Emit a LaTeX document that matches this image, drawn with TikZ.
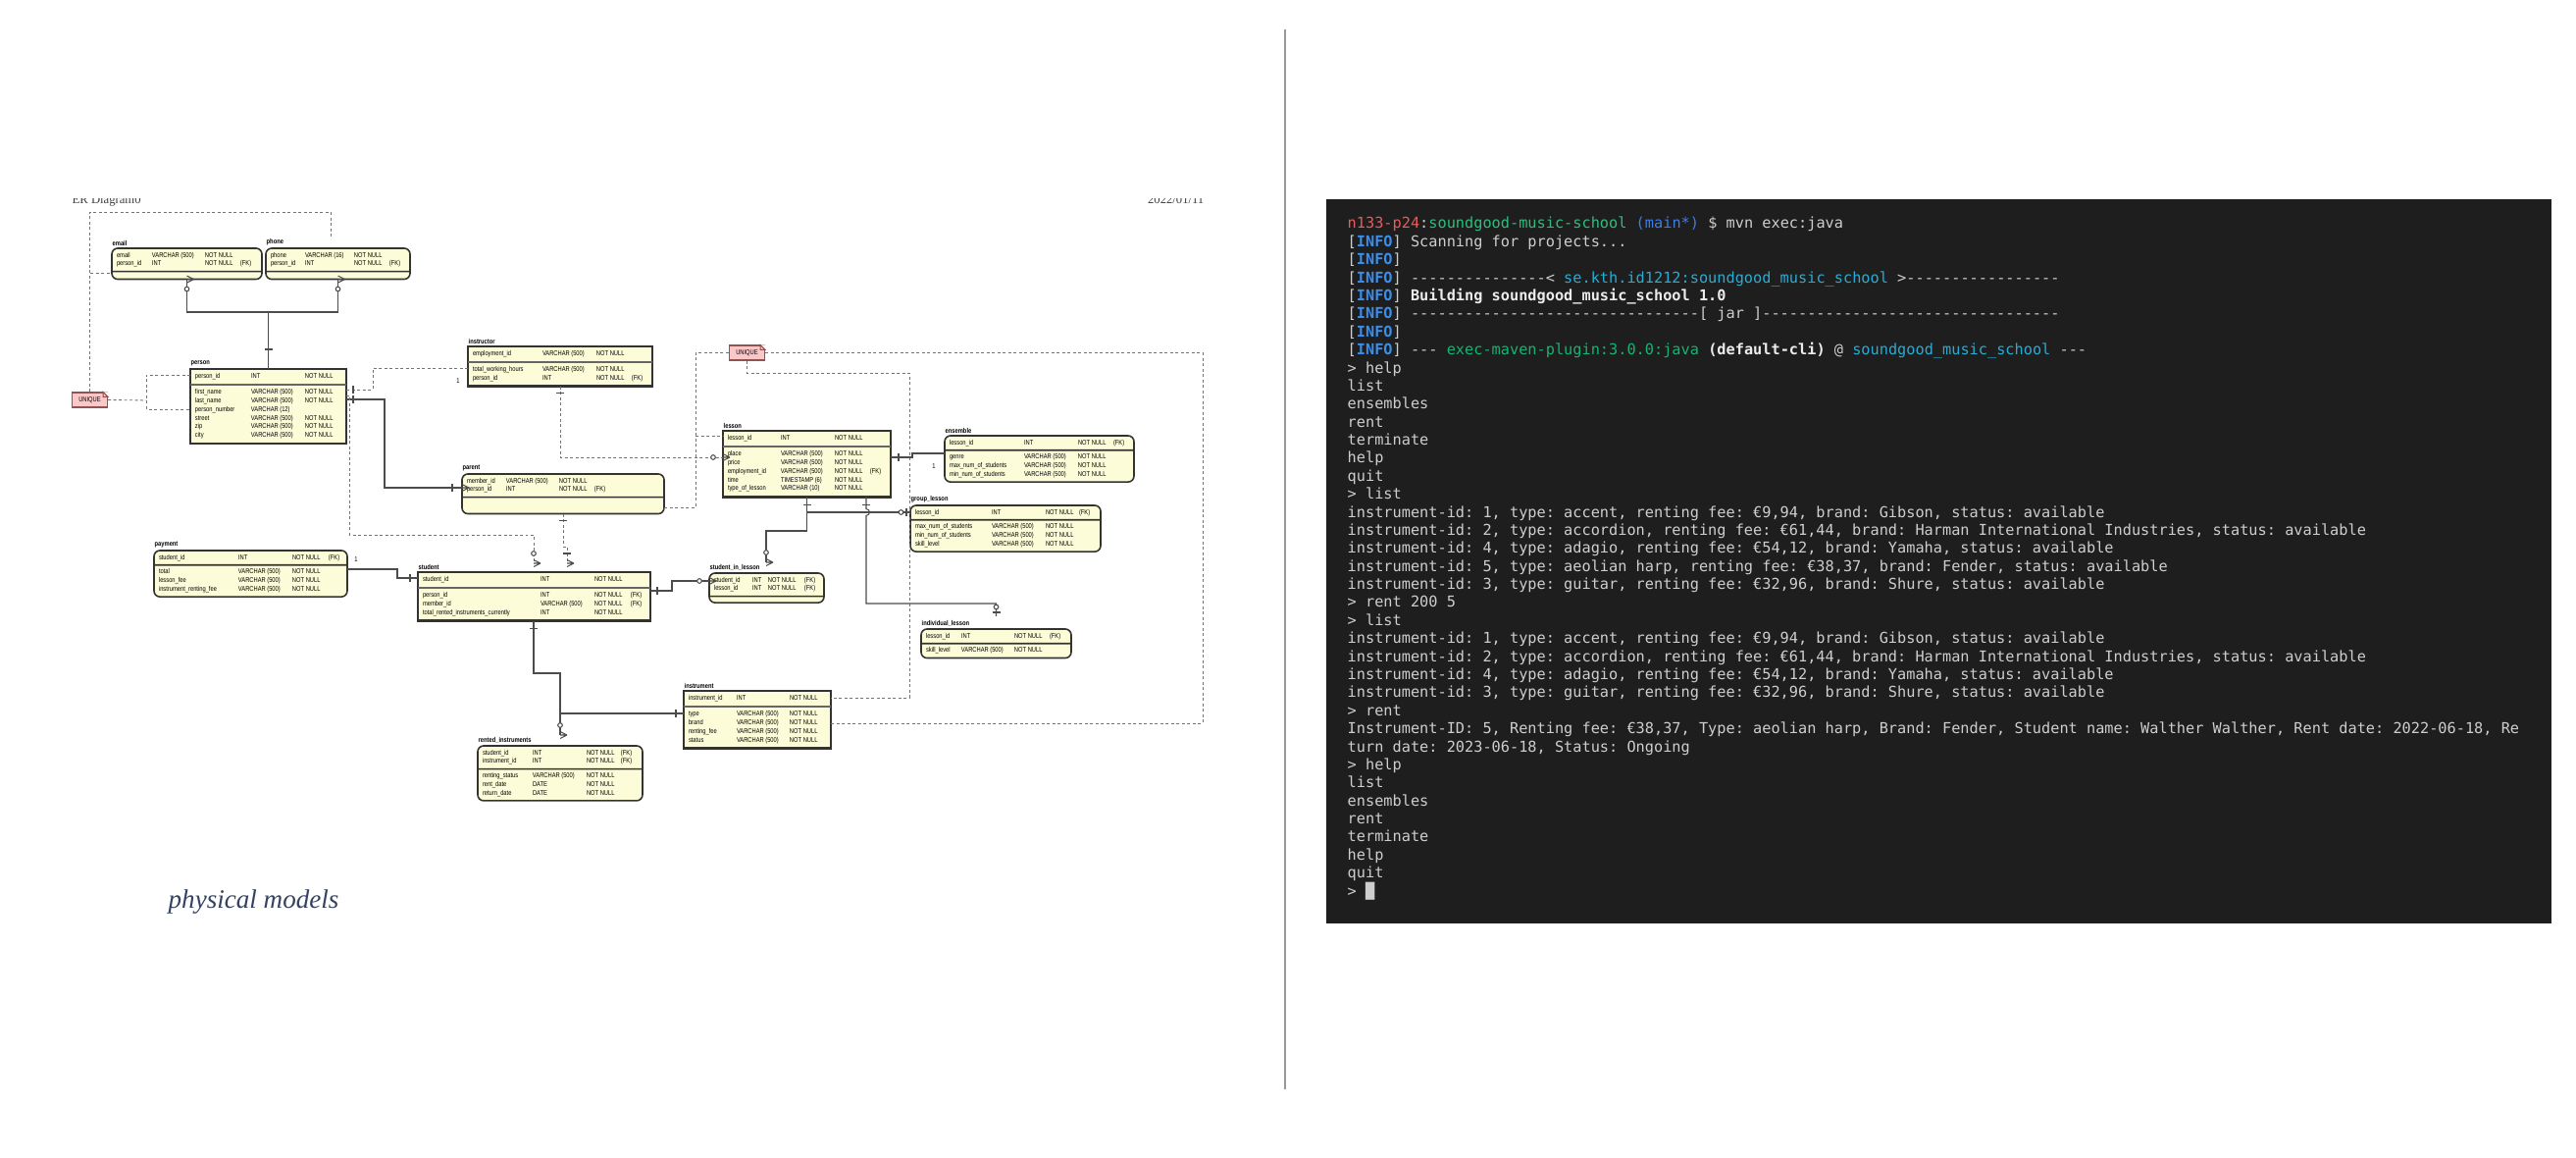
\documentclass[tikz,border=0pt]{standalone}
\usepackage{fontspec}
\setmonofont{DejaVu Sans Mono}
\newfontfamily\erfont[FakeStretch=0.82]{Liberation Sans}
\newfontfamily\pagefont{Liberation Serif}
\usetikzlibrary{shapes.multipart}

\definecolor{erfill}{RGB}{253,252,216}
\definecolor{notefill}{RGB}{250,200,200}
\definecolor{notedraw}{RGB}{150,80,80}
\definecolor{capblue}{RGB}{52,66,98}
\definecolor{termbg}{RGB}{30,30,30}
\definecolor{termfg}{RGB}{206,206,206}
\definecolor{twhite}{RGB}{236,236,236}
\definecolor{infoblue}{RGB}{59,142,234}
\definecolor{pred}{RGB}{232,92,92}
\definecolor{pgreen}{RGB}{45,190,125}
\definecolor{pblue}{RGB}{60,125,235}
\definecolor{tcyan}{RGB}{41,172,212}
\definecolor{tgreen}{RGB}{20,180,115}

\newlength\pxu \setlength\pxu{0.01cm}
\newlength\ecA \newlength\ecB \newlength\ecC \newlength\ecD
\newcommand\setcols[4]{\setlength\ecA{#1\pxu}\setlength\ecB{#2\pxu}\setlength\ecC{#3\pxu}\setlength\ecD{#4\pxu}}
\newcommand\etab[1]{\begin{tabular}{@{}p{\ecA}@{}p{\ecB}@{}p{\ecC}@{}p{\ecD}@{}}#1\end{tabular}}
\newcommand\ersize{\fontsize{2pt}{2.5pt}\selectfont}
\newcommand\tinfo{[\textcolor{infoblue}{\textbf{INFO}}]}

\tikzset{
  entity/.style={rectangle split, rectangle split parts=2, rectangle split part align=left,
    draw=black!80, fill=erfill, anchor=north west, inner xsep=5\pxu, inner ysep=2.2\pxu,
    outer sep=0pt, font=\erfont\ersize},
  strong/.style={entity, line width=0.8pt, rectangle split draw splits=false},
  weak/.style={entity, line width=0.45pt, rounded corners=6\pxu},
  etitle/.style={anchor=south west, inner sep=0pt, yshift=2\pxu, font=\erfont\ersize\bfseries},
  splitline/.style={draw=black!60, line width=0.3pt},
  link/.style={draw=black!70, line width=0.3pt},
  dlink/.style={draw=black!55, line width=0.25pt, dash pattern=on 3\pxu off 2.5\pxu},
  note/.style={draw=notedraw, fill=notefill, line width=0.3pt, minimum width=36\pxu,
    minimum height=15\pxu, inner sep=0pt, font=\erfont\ersize},
  card/.style={inner sep=0pt, font=\erfont\ersize},
  pics/crow/.style={code={\draw[link] (7,0) -- (0,-3.5) (7,0) -- (0,0) (7,0) -- (0,3.5);}},
  pics/one/.style={code={\draw[link] (#1,-4) -- (#1,4);}},
  pics/zmany/.style={code={\pic {crow}; \draw[link, fill=white] (10,0) circle (2.3);}},
  pics/omany/.style={code={\pic {crow}; \draw[link] (10,-4) -- (10,4);}},
  pics/zone/.style={code={\draw[link] (4,-4) -- (4,4); \draw[link, fill=white] (9.5,0) circle (2.3);}},
  term/.style={anchor=base west, inner sep=0pt, text=termfg, font=\ttfamily\fontsize{4.34pt}{5.2pt}\selectfont},
  pagehead/.style={inner sep=0pt, text=black!75, font=\pagefont\fontsize{3.6pt}{4pt}\selectfont},
}

\begin{document}
\begin{tikzpicture}[x=0.01cm, y=-0.01cm]
\useasboundingbox (0,0) rectangle (2626,1180);
\fill[white] (0,0) rectangle (2626,1180);

% page of the ER model
\begin{scope}
  \clip (0,203) rectangle (1300,230);
  \node[pagehead, anchor=base west] (hdr) at (73,207.5) {ER Diagram0};
  \node[pagehead, anchor=base east] (date) at (1228,207.5) {2022/01/11};
\end{scope}

\setcols{36}{54}{36}{17}
\node[weak, label={[etitle]north west:email}] (email) at (114,253)
  {\etab{email & VARCHAR (500) & NOT NULL\\ person\_id & INT & NOT NULL & (FK)}\nodepart{two}\rule{0pt}{2\pxu}};
\setcols{35}{50}{36}{16}
\node[weak, label={[etitle]north west:phone}] (phone) at (271,253)
  {\etab{phone & VARCHAR (16) & NOT NULL\\ person\_id & INT & NOT NULL & (FK)}\nodepart{two}\rule{0pt}{2\pxu}};
\setcols{57}{55}{37}{0}
\node[strong, label={[etitle]north west:person}] (person) at (194,376)
  {\etab{person\_id & INT & NOT NULL}\nodepart{two}\etab{first\_name & VARCHAR (500) & NOT NULL\\
   last\_name & VARCHAR (500) & NOT NULL\\ person\_number & VARCHAR (12)\\ street & VARCHAR (500) & NOT NULL\\
   zip & VARCHAR (500) & NOT NULL\\ city & VARCHAR (500) & NOT NULL}};
\setcols{71}{55}{36}{16}
\node[strong, label={[etitle]north west:instructor}] (instructor) at (477,353)
  {\etab{employment\_id & VARCHAR (500) & NOT NULL}\nodepart{two}\etab{total\_working\_hours & VARCHAR (500) & NOT NULL\\
   person\_id & INT & NOT NULL & (FK)}};
\setcols{40}{54}{36}{66}
\node[weak, label={[etitle]north west:parent}] (parent) at (471,483)
  {\etab{member\_id & VARCHAR (500) & NOT NULL\\ person\_id & INT & NOT NULL & (FK)}\nodepart{two}\rule{0pt}{11\pxu}};
\setcols{54}{55}{36}{16}
\node[strong, label={[etitle]north west:lesson}] (lesson) at (737,439)
  {\etab{lesson\_id & INT & NOT NULL}\nodepart{two}\etab{place & VARCHAR (500) & NOT NULL\\
   price & VARCHAR (500) & NOT NULL\\ employment\_id & VARCHAR (500) & NOT NULL & (FK)\\
   time & TIMESTAMP (6) & NOT NULL\\ type\_of\_lesson & VARCHAR (10) & NOT NULL}};
\setcols{76}{55}{36}{16}
\node[weak, label={[etitle]north west:ensemble}] (ensemble) at (963,444)
  {\etab{lesson\_id & INT & NOT NULL & (FK)}\nodepart{two}\etab{genre & VARCHAR (500) & NOT NULL\\
   max\_num\_of\_students & VARCHAR (500) & NOT NULL\\ min\_num\_of\_students & VARCHAR (500) & NOT NULL}};
\setcols{78}{55}{34}{17}
\node[weak, label={[etitle]north west:group\_lesson}] (group-lesson) at (928,515)
  {\etab{lesson\_id & INT & NOT NULL & (FK)}\nodepart{two}\etab{max\_num\_of\_students & VARCHAR (500) & NOT NULL\\
   min\_num\_of\_students & VARCHAR (500) & NOT NULL\\ skill\_level & VARCHAR (500) & NOT NULL}};
\setcols{36}{54}{36}{17}
\node[weak, label={[etitle]north west:individual\_lesson}] (individual-lesson) at (939,641)
  {\etab{lesson\_id & INT & NOT NULL & (FK)}\nodepart{two}\etab{skill\_level & VARCHAR (500) & NOT NULL}};
\setcols{81}{55}{37}{14}
\node[weak, label={[etitle]north west:payment}] (payment) at (157,561)
  {\etab{student\_id & INT & NOT NULL & (FK)}\nodepart{two}\etab{total & VARCHAR (500) & NOT NULL\\
   lesson\_fee & VARCHAR (500) & NOT NULL\\ instrument\_renting\_fee & VARCHAR (500) & NOT NULL}};
\setcols{120}{55}{37}{15}
\node[strong, label={[etitle]north west:student}] (student) at (426,583)
  {\etab{student\_id & INT & NOT NULL}\nodepart{two}\etab{person\_id & INT & NOT NULL & (FK)\\
   member\_id & VARCHAR (500) & NOT NULL & (FK)\\ total\_rented\_instruments\_currently & INT & NOT NULL}};
\setcols{39}{16}{37}{15}
\node[weak, label={[etitle]north west:student\_in\_lesson}] (student-in-lesson) at (723,584)
  {\etab{student\_id & INT & NOT NULL & (FK)\\ lesson\_id & INT & NOT NULL & (FK)}\nodepart{two}\rule{0pt}{0.6\pxu}};
\setcols{49}{54}{37}{0}
\node[strong, label={[etitle]north west:instrument}] (instrument) at (697,704)
  {\etab{instrument\_id & INT & NOT NULL}\nodepart{two}\etab{type & VARCHAR (500) & NOT NULL\\
   brand & VARCHAR (500) & NOT NULL\\ renting\_fee & VARCHAR (500) & NOT NULL\\ status & VARCHAR (500) & NOT NULL}};
\setcols{51}{55}{35}{17}
\node[weak, label={[etitle]north west:rented\_instruments}] (rented-instruments) at (487,760)
  {\etab{student\_id & INT & NOT NULL & (FK)\\ instrument\_id & INT & NOT NULL & (FK)}\nodepart{two}\etab{renting\_status & VARCHAR (500) & NOT NULL\\
   rent\_date & DATE & NOT NULL\\ return\_date & DATE & NOT NULL}};
\foreach \n in {person,instructor,lesson,student,instrument}
  \draw[splitline] (\n.one split west) -- (\n.one split east);

% notes
\node[note] (uq1) at (91.5,407.5) {UNIQUE};
\node[note] (uq2) at (761.5,359.5) {UNIQUE};
\foreach \n in {uq1,uq2} {
  \fill[white] ([xshift=-5\pxu]\n.north east) -- ([xshift=0.5pt]\n.north east) -- ([yshift=-5\pxu]\n.north east) -- cycle;
  \draw[notedraw, line width=0.3pt] ([xshift=-5\pxu]\n.north east) |- ([yshift=-5\pxu]\n.north east) -- cycle;
}

% connectors
\draw[dlink] (uq1.north) |- (337,216) -- (337,242);
\draw[dlink] (92,278) -- (email.west |- 0,278);
\draw[dlink] (uq1.east) -- (149,408);
\draw[dlink] (person.west |- 0,382) -| (149,417) -- (person.west |- 0,417);
\draw[link] (email.south) |- (person.north |- 0,318) -| (phone.south);
\draw[link] (person.north |- 0,318) -- (person.north);
\pic[rotate=-90] at (email.south) {zmany};
\pic[rotate=-90] at (phone.south) {zmany};
\pic[rotate=90] at (person.north) {one=20};

\draw[dlink] (person.east |- 0,397) -| (380,375) -- (instructor.west |- 0,375);
\pic at (person.east |- 0,397) {one=7};
\node[card] (c1) at (467,388) {1};
\draw[link] (person.east |- 0,407) -| (392,497) -- (parent.west |- 0,497);
\pic at (person.east |- 0,407) {one=7};
\pic[rotate=180] at (parent.west |- 0,497) {omany};
\draw[dlink] (person.east |- 0,403) -| (356,545) -| (544,574);
\pic[rotate=90] at (544,574) {zmany};
\draw[dlink] (parent.south) -- (parent.south |- 0,557) -| (578,574);
\pic[rotate=-90] at (parent.south) {one=7};
\pic[rotate=90] at (578,574) {omany};

\draw[dlink] (instructor.south) |- (lesson.west |- 0,466);
\pic[rotate=-90] at (instructor.south) {one=7};
\pic[rotate=180] at (lesson.west |- 0,466) {zmany};
\draw[dlink] (uq2.west) -| (709,517) -- (parent.east |- 0,517);
\draw[dlink] (709,444) -- (lesson.west |- 0,444);
\draw[dlink] (uq2.east) -| (1226,737) -- (instrument.east |- 0,737);
\draw[dlink] (uq2.south) |- (927,380) |- (instrument.east |- 0,711);

\draw[link] (lesson.east |- 0,466) -- (930,466) |- (ensemble.west |- 0,462);
\pic at (lesson.east |- 0,466) {one=8};
\node[card] (c2) at (952,475) {1};
\draw[link] (lesson.south) |- (781,541) -- (781,573);
\draw[link] (lesson.south |- 0,522) -- (group-lesson.west |- 0,522);
\pic[rotate=-90] at (lesson.south) {one=8};
\pic[rotate=90] at (781,573) {zmany};
\pic[rotate=180] at (group-lesson.west |- 0,522) {zone};
\coordinate (lb2) at (lesson.south -| 883,0);
\draw[link] (lb2) -- (883,518.5) .. controls (887.5,519) and (887.5,525) .. (883,525.5)
  |- (individual-lesson.north |- 0,615) -- (individual-lesson.north |- 0,628);
\pic[rotate=-90] at (lb2) {one=8};
\pic[rotate=90] at (individual-lesson.north |- 0,628) {zone};

\draw[link] (payment.east |- 0,580) -| (405,589) -- (student.west |- 0,589);
\pic[rotate=180] at (student.west |- 0,589) {one=8};
\node[card] (c3) at (363,570) {1};
\draw[link] (student.east |- 0,602) -| (685,592) -- (student-in-lesson.west |- 0,592);
\pic at (student.east |- 0,602) {one=7};
\pic[rotate=180] at (student-in-lesson.west |- 0,592) {zmany};
\draw[link] (student.south -| 544,0) |- (571,686) -- (571,749);
\draw[link] (instrument.west |- 0,727) -- (571,727);
\pic[rotate=-90] at (student.south -| 544,0) {one=8};
\pic[rotate=90] at (571,749) {zmany};
\pic[rotate=180] at (instrument.west |- 0,727) {one=8};

\node[anchor=base west, inner sep=0pt, text=capblue, font=\pagefont\itshape\fontsize{7.7pt}{9pt}\selectfont] (cap) at (171,926) {physical models};

\draw[black!40, line width=0.45pt] (1310,30) -- (1310,1110);

% terminal
\fill[termbg] (1352,203) rectangle (2601,941);
\foreach \tline [count=\i] in {
  {\textcolor{pred}{n133-p24}:\textcolor{pgreen}{soundgood-music-school} \textcolor{pblue}{(main*)} \$ mvn exec:java},
  {\tinfo{} Scanning for projects.{}.{}.},
  {\tinfo},
  {\tinfo{} ---------------< \textcolor{tcyan}{se.kth.id1212:soundgood\_music\_school} >-----------------},
  {\tinfo{} \textcolor{twhite}{\textbf{Building soundgood\_music\_school 1.0}}},
  {\tinfo{} --------------------------------[ jar ]---------------------------------},
  {\tinfo},
  {\tinfo{} --- \textcolor{tgreen}{exec-maven-plugin:3.0.0:java} \textcolor{twhite}{\textbf{(default-cli)}} @ \textcolor{tcyan}{soundgood\_music\_school} ---},
  {> help}, list, ensembles, rent, terminate, help, quit,
  {> list},
  {instrument-id: 1, type: accent, renting fee: €9,94, brand: Gibson, status: available},
  {instrument-id: 2, type: accordion, renting fee: €61,44, brand: Harman International Industries, status: available},
  {instrument-id: 4, type: adagio, renting fee: €54,12, brand: Yamaha, status: available},
  {instrument-id: 5, type: aeolian harp, renting fee: €38,37, brand: Fender, status: available},
  {instrument-id: 3, type: guitar, renting fee: €32,96, brand: Shure, status: available},
  {> rent 200 5},
  {> list},
  {instrument-id: 1, type: accent, renting fee: €9,94, brand: Gibson, status: available},
  {instrument-id: 2, type: accordion, renting fee: €61,44, brand: Harman International Industries, status: available},
  {instrument-id: 4, type: adagio, renting fee: €54,12, brand: Yamaha, status: available},
  {instrument-id: 3, type: guitar, renting fee: €32,96, brand: Shure, status: available},
  {> rent},
  {Instrument-ID: 5, Renting fee: €38,37, Type: aeolian harp, Brand: Fender, Student name: Walther Walther, Rent date: 2022-06-18, Re},
  {turn date: 2023-06-18, Status: Ongoing},
  {> help}, list, ensembles, rent, terminate, help, quit,
  {> █}}
  \node[term] (line\i) at (1373,{233+(\i-1)*18.38}) {\tline};
\end{tikzpicture}
\end{document}
